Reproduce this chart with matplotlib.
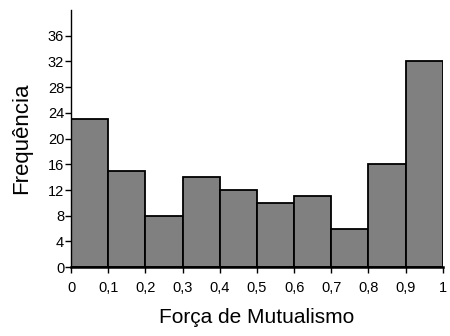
import matplotlib
matplotlib.use('Agg')
import matplotlib.pyplot as plt
import numpy as np

plt.rcParams['font.family'] = ['Liberation Sans', 'DejaVu Sans']

bin_edges = [0, 0.1, 0.2, 0.3, 0.4, 0.5, 0.6, 0.7, 0.8, 0.9, 1.0]
counts = [23, 15, 8, 14, 12, 10, 11, 6, 16, 32]
x_labels = ['0', '0,1', '0,2', '0,3', '0,4', '0,5', '0,6', '0,7', '0,8', '0,9', '1']
y_ticks = [0, 4, 8, 12, 16, 20, 24, 28, 32, 36]

fig = plt.figure(figsize=(4.5, 3.36), dpi=100)
ax = fig.add_axes([0.158, 0.205, 0.826, 0.765])

lefts = np.array(bin_edges[:-1])
widths = np.diff(bin_edges)
ax.bar(lefts, counts, width=widths, align='edge', color='#808080',
       edgecolor='black', linewidth=1.3)

ax.set_xlim(0, 1)
ax.set_ylim(0, 40)
ax.set_xticks(bin_edges)
ax.set_xticklabels(x_labels)
ax.set_yticks(y_ticks)
ax.tick_params(axis='both', labelsize=10.5, length=4, width=1, direction='out')
ax.tick_params(axis='x', pad=6)
ax.tick_params(axis='y', pad=1)

for s in ['top', 'right']:
    ax.spines[s].set_visible(False)
ax.spines['left'].set_linewidth(1)
ax.spines['bottom'].set_linewidth(1.8)

ax.set_xlabel('Força de Mutualismo', fontsize=15, labelpad=9)
ax.set_ylabel('Frequência', fontsize=16, labelpad=11)

fig.savefig('out.png', dpi=100)
